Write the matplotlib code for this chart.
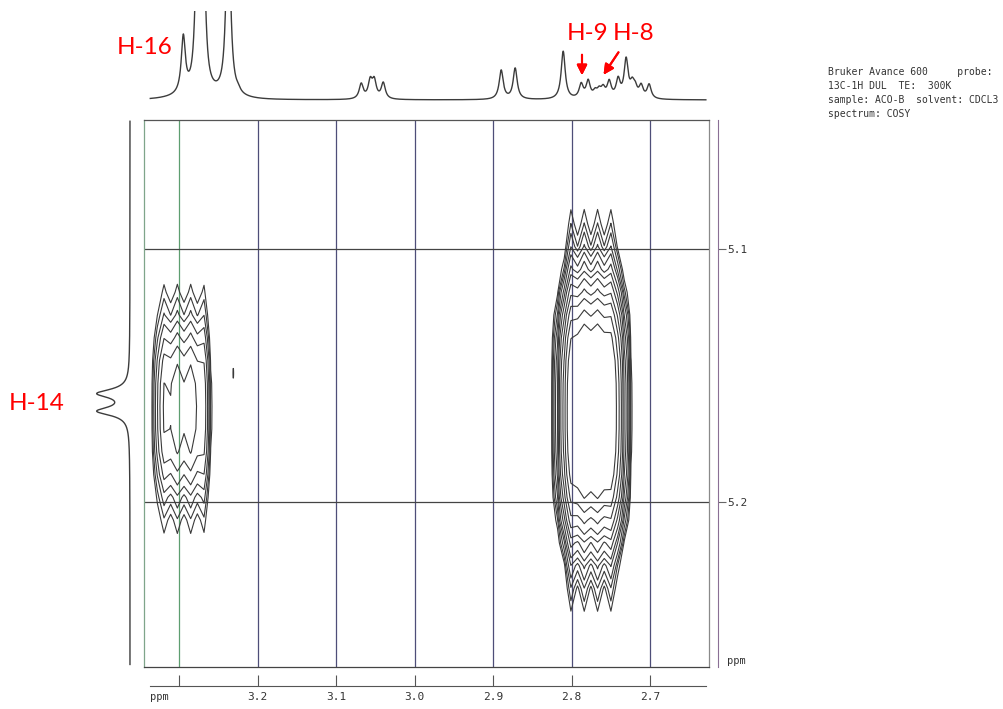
import numpy as np
import matplotlib.pyplot as plt

W, H = 1004, 709

# ---- data ----
# 1D proton spectrum on top (ppm, relative height)
top_ppm = [3.2949, 3.2771, 3.2694, 3.2376, 3.2248,
           3.0682, 3.0567, 3.0516, 3.0401,
           2.8898, 2.8720, 2.8108,
           2.7879, 2.7790, 2.7701, 2.7650, 2.7599, 2.7522, 2.7408,
           2.7306, 2.7229, 2.7191, 2.7115, 2.7013]
top_amp = [56, 150, 150, 200, 3,
           15, 17, 17, 16,
           29, 31, 48,
           14, 17, 6, 7, 9, 16, 18,
           38, 12, 9, 12, 14]

# 1D projection on the left (H-14 doublet)
left_ppm = [5.157, 5.164]
left_amp = [31, 31]

# COSY cross peaks: flat-topped body + multiplet lines along F1
cross_x0 = [3.296, 2.774]
cross_y0 = [5.163, 5.164]
body_amp = [6.0, 65.0]
body_sx = [0.031, 0.035]
body_sy = [0.027, 0.0385]
line_x = [[3.322, 3.305, 3.288, 3.271],
          [2.800, 2.783, 2.766, 2.749]]
line_amp = [4.2, 15.0]
line_sy = [0.030, 0.034]
# tiny noise contour
noise_x, noise_y = 3.2312, 5.149

x_ticks = [3.2, 3.1, 3.0, 2.9, 2.8, 2.7]
y_ticks = [5.1, 5.2]
n_levels = 12

X_LIM = (3.345, 2.625)
Y_LIM = (5.265, 5.049)


def px_axes(fig, x0, y0, x1, y1):
    return fig.add_axes([x0 / W, 1 - y1 / H, (x1 - x0) / W, (y1 - y0) / H])


def lorentz(x, pos, amp, g):
    out = np.zeros_like(x)
    for p, a in zip(pos, amp):
        out += a * g * g / ((x - p) ** 2 + g * g)
    return out


fig = plt.figure(figsize=(W / 100, H / 100), dpi=100)
mono = 'DejaVu Sans Mono'

# ---- main 2D panel ----
ax = px_axes(fig, 144, 120, 709, 667)
ax.set_xlim(*X_LIM)
ax.set_ylim(*Y_LIM)
ax.set_xticks([])
ax.set_yticks([])
ax.spines['left'].set_color('#7fa58a')
ax.spines['top'].set_color('#555555')
ax.spines['bottom'].set_color('#444444')
ax.spines['right'].set_color('#8a8a8a')
for s in ax.spines.values():
    s.set_linewidth(0.9)

ax.axvline(3.3, color='#5e9e70', lw=0.9)
for t in x_ticks:
    ax.axvline(t, color='#4e4e78', lw=0.9)
for t in y_ticks:
    ax.axhline(t, color='#444444', lw=0.9)

gx = np.arange(3.345, 2.62, -0.0085)
gy = np.arange(5.045, 5.27, 0.009)
XX, YY = np.meshgrid(gx, gy)
Z = np.zeros_like(XX)
for i in range(len(cross_x0)):
    dx = XX - cross_x0[i]
    dy = YY - cross_y0[i]
    Z += body_amp[i] * np.exp(-np.abs(dx / body_sx[i]) ** 4
                              - np.abs(dy / body_sy[i]) ** 3)
    for lx in line_x[i]:
        Z += line_amp[i] * np.exp(-(XX - lx) ** 2 / (2 * 0.0046 ** 2)
                                  - dy ** 2 / (2 * line_sy[i] ** 2))
levels = 1.4 ** np.arange(n_levels)
ax.contour(XX, YY, Z, levels=levels, colors='#3a3a3a', linewidths=0.8)

nx = np.linspace(noise_x - 0.003, noise_x + 0.003, 20)
ny = np.linspace(noise_y - 0.01, noise_y + 0.01, 40)
NX, NY = np.meshgrid(nx, ny)
NZ = 1.3 * np.exp(-((NX - noise_x) / 0.0008) ** 2 - ((NY - noise_y) / 0.004) ** 2)
ax.contour(NX, NY, NZ, levels=[1.0], colors='#3a3a3a', linewidths=0.8)

# ---- top projection ----
axt = px_axes(fig, 144, 11, 709, 105)
sx = np.linspace(3.337, 2.629, 4000)
sy = lorentz(sx, top_ppm, top_amp, 0.0031)
sy += 4 * np.exp(-(sx - 3.27) ** 2 / (2 * 0.03 ** 2))
axt.plot(sx, sy, color='#3c3c3c', lw=1.0)
axt.set_xlim(*X_LIM)
axt.set_ylim(-5, 89)
axt.axis('off')

# ---- left projection ----
axl = px_axes(fig, 90, 120, 135, 667)
ly = np.linspace(5.0495, 5.264, 2000)
lx = lorentz(ly, left_ppm, left_amp, 0.002)
axl.plot(-lx, ly, color='#3c3c3c', lw=1.0)
axl.set_xlim(-40, 5)
axl.set_ylim(*Y_LIM)
axl.axis('off')

# ---- bottom ppm scale ----
axb = px_axes(fig, 144, 685, 709, 686)
axb.set_xlim(*X_LIM)
axb.set_yticks([])
for k in ['top', 'left', 'right']:
    axb.spines[k].set_visible(False)
axb.spines['bottom'].set_bounds(3.337, 2.629)
axb.spines['bottom'].set_color('#555555')
axb.patch.set_visible(False)
axb.set_xticks([3.3] + x_ticks)
axb.set_xticklabels([''] + ['%.1f' % t for t in x_ticks], fontfamily=mono,
                    fontsize=8, color='#333333')
axb.tick_params(axis='x', direction='in', length=8, width=0.8,
                colors='#555555', labelcolor='#333333', pad=4)
fig.text(150 / W, 1 - 697 / H, 'ppm', fontfamily=mono, fontsize=7.5,
         color='#333333', va='center')

# ---- right ppm scale ----
axr = px_axes(fig, 717, 120, 718, 667)
axr.set_ylim(*Y_LIM)
axr.set_xticks([])
for k in ['top', 'left', 'bottom']:
    axr.spines[k].set_visible(False)
axr.spines['right'].set_color('#8a6f95')
axr.patch.set_visible(False)
axr.yaxis.tick_right()
axr.set_yticks(y_ticks)
axr.set_yticklabels(['%.1f' % t for t in y_ticks], fontfamily=mono,
                    fontsize=8, color='#333333')
axr.tick_params(axis='y', direction='out', length=6, width=0.8,
                colors='#666666', labelcolor='#333333', pad=1)
fig.text(727 / W, 1 - 661 / H, 'ppm', fontfamily=mono, fontsize=7.5,
         color='#333333', va='center')

# ---- acquisition info ----
info = ['Bruker Avance 600     probe:',
        '13C-1H DUL  TE:  300K',
        'sample: ACO-B  solvent: CDCL3',
        'spectrum: COSY']
for i, line in enumerate(info):
    fig.text(828 / W, 1 - (72 + 14 * i) / H, line, fontfamily=mono,
             fontsize=7.0, color='#333333', va='center')

# ---- red labels ----
red = '#ff0000'
lab = dict(color=red, fontsize=17.5, family=['Lato', 'DejaVu Sans'],
           ha='center', va='center')
fig.text(145 / W, 1 - 47 / H, 'H-16', **lab)
fig.text(37 / W, 1 - 403 / H, 'H-14', **lab)
fig.text(588 / W, 1 - 33 / H, 'H-9', **lab)
fig.text(634 / W, 1 - 33 / H, 'H-8', **lab)
arr = dict(arrowstyle='-|>,head_length=0.6,head_width=0.3', color=red, lw=1.5)
fig.add_artist(plt.annotate('', xy=(582 / W, 1 - 78 / H), xytext=(582 / W, 1 - 52 / H),
                            xycoords='figure fraction', arrowprops=arr))
fig.add_artist(plt.annotate('', xy=(602 / W, 1 - 77 / H), xytext=(620 / W, 1 - 50 / H),
                            xycoords='figure fraction', arrowprops=arr))

fig.savefig('out.png', dpi=100, facecolor='white')
